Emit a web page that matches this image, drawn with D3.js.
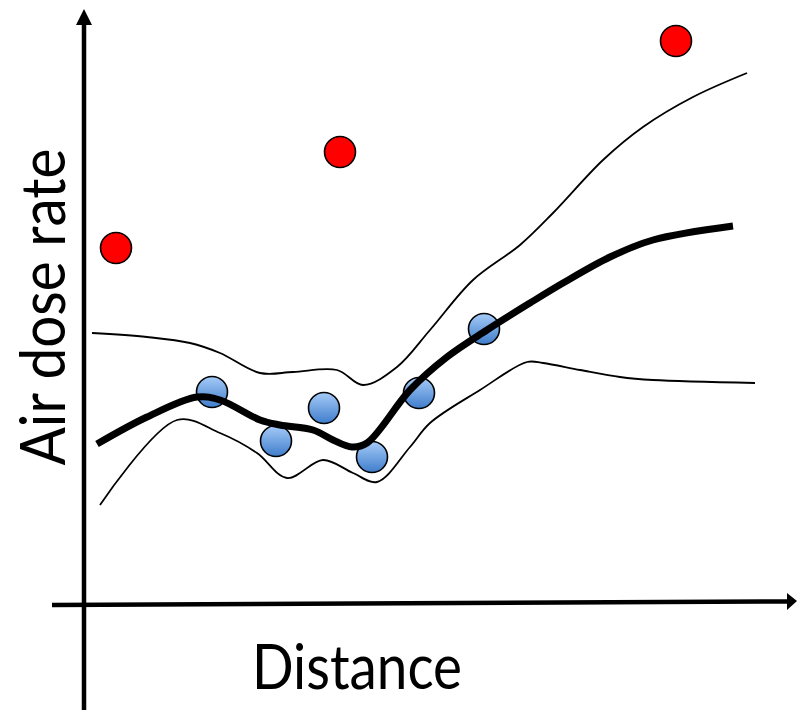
<!DOCTYPE html>
<html>
<head>
<meta charset="utf-8">
<script src="https://cdn.jsdelivr.net/npm/d3@7"></script>
<style>
  html, body { margin: 0; padding: 0; background: #fff; }
  svg { display: block; }
  .label { font-family: Lato, "Open Sans", sans-serif; fill: #000; }
</style>
</head>
<body>
<div id="chart"></div>
<script>
// data in chart units (x: distance, y: dose rate), origin at axis crossing
const outliers = [[32, 355], [256, 451], [592, 562]];
const samples = [[128, 211], [192, 162], [240, 195], [288, 146], [335, 210], [400, 274]];
const meanLine = [[13, 159], [63, 186], [113, 206], [136, 203], [176, 183], [196, 178], [229, 173],
  [249, 163], [268, 156], [283, 160], [326, 213], [363, 246], [403, 273], [446, 300], [479, 320],
  [526, 346], [569, 363], [649, 377]];
const upperBand = [[8, 270], [63, 266], [106, 260], [136, 250], [176, 230], [209, 231], [253, 233],
  [279, 218], [313, 236], [346, 273], [389, 323], [436, 358], [469, 390], [519, 443], [559, 476],
  [609, 506], [663, 530]];
const lowerBand = [[16, 98], [93, 183], [136, 170], [173, 150], [203, 125], [239, 143],
  [269, 130], [293, 121], [326, 156], [346, 180], [396, 213], [443, 241], [459, 240], [496, 233],
  [536, 226], [569, 223], [671, 220]];
const xTitle = 'Distance';
const yTitle = 'Air dose rate';

const width = 798;
const height = 710;

const svg = d3.select('#chart')
  .append('svg')
  .attr('width', width)
  .attr('height', height);

const x = d3.scaleLinear().domain([0, 713]).range([84, 797]);
const y = d3.scaleLinear().domain([0, 594]).range([603, 9]);

const defs = svg.append('defs');
const grad = defs.append('linearGradient')
  .attr('id', 'blueGrad')
  .attr('x1', 0).attr('y1', 0).attr('x2', 0).attr('y2', 1);
grad.append('stop').attr('offset', '0%').attr('stop-color', '#a6cbf8');
grad.append('stop').attr('offset', '100%').attr('stop-color', '#3f7dcb');

// y axis
svg.append('line')
  .attr('x1', x(0)).attr('y1', height)
  .attr('x2', x(0)).attr('y2', y(578))
  .attr('stroke', '#000')
  .attr('stroke-width', 4.5);
svg.append('path')
  .attr('d', `M${x(0)},${y(594)} L${x(0) + 8},${y(578)} L${x(0) - 8},${y(578)} Z`)
  .attr('fill', '#000');

// x axis (slightly tilted in the original)
svg.append('line')
  .attr('x1', x(-32)).attr('y1', y(-2))
  .attr('x2', x(703)).attr('y2', y(1.5))
  .attr('stroke', '#000')
  .attr('stroke-width', 4.5);
svg.append('path')
  .attr('d', `M${x(713)},${y(2)} L${x(703)},${y(10)} L${x(703)},${y(-7)} Z`)
  .attr('fill', '#000');

const line = d3.line()
  .x(d => x(d[0]))
  .y(d => y(d[1]))
  .curve(d3.curveCatmullRom.alpha(0.5));

svg.append('path')
  .datum(upperBand)
  .attr('d', line)
  .attr('fill', 'none')
  .attr('stroke', '#000')
  .attr('stroke-width', 1.8);

svg.append('path')
  .datum(lowerBand)
  .attr('d', line)
  .attr('fill', 'none')
  .attr('stroke', '#000')
  .attr('stroke-width', 1.8);

// sample points drawn under the mean line
svg.selectAll('.sample')
  .data(samples)
  .enter()
  .append('circle')
  .attr('class', 'sample')
  .attr('cx', d => x(d[0]))
  .attr('cy', d => y(d[1]))
  .attr('r', 15.5)
  .attr('fill', 'url(#blueGrad)')
  .attr('stroke', '#000')
  .attr('stroke-width', 1.6);

svg.append('path')
  .datum(meanLine)
  .attr('d', line)
  .attr('fill', 'none')
  .attr('stroke', '#000')
  .attr('stroke-width', 7);

svg.selectAll('.outlier')
  .data(outliers)
  .enter()
  .append('circle')
  .attr('class', 'outlier')
  .attr('cx', d => x(d[0]))
  .attr('cy', d => y(d[1]))
  .attr('r', 15.5)
  .attr('fill', '#ff0000')
  .attr('stroke', '#000')
  .attr('stroke-width', 1.6);

// axis titles
svg.append('text')
  .attr('class', 'label')
  .attr('x', 357)
  .attr('y', 689)
  .attr('text-anchor', 'middle')
  .attr('font-size', 61)
  .attr('textLength', 210)
  .attr('lengthAdjust', 'spacingAndGlyphs')
  .text(xTitle);

svg.append('text')
  .attr('class', 'label')
  .attr('transform', 'translate(65, 307) rotate(-90)')
  .attr('text-anchor', 'middle')
  .attr('font-size', 61)
  .attr('textLength', 317)
  .attr('lengthAdjust', 'spacingAndGlyphs')
  .text(yTitle);
</script>
</body>
</html>
